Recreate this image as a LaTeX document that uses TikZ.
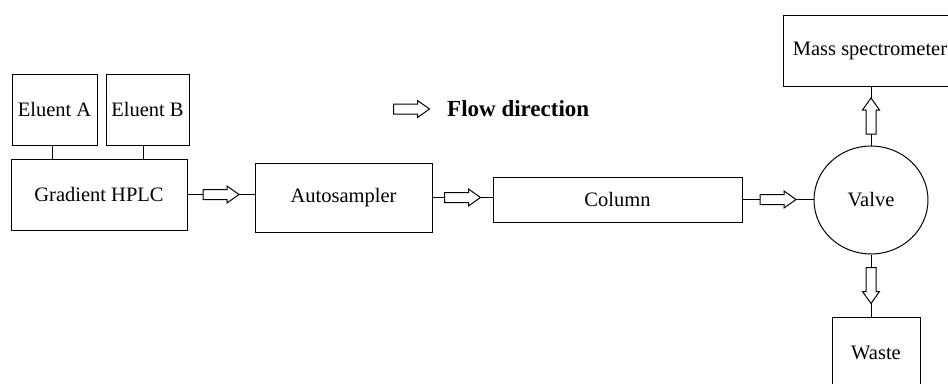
\documentclass[tikz,border=0pt]{standalone}
\usepackage{fontspec}
\setmainfont{Liberation Serif}
\usetikzlibrary{calc,shapes.geometric}
\begin{document}
\begin{tikzpicture}[x=1pt,y=-1pt,
  box/.style={draw,line width=1pt,rectangle,inner sep=0pt,font=\fontsize{20.5}{24}\selectfont},
  conn/.style={line width=1pt},
  blockarrow/.pic={\draw[line width=1pt,fill=white,line join=miter]
     (-18,-5) -- (6,-5) -- (6,-8.5) -- (18,0) -- (6,8.5) -- (6,5) -- (-18,5) -- cycle;}]
\useasboundingbox (0,0) rectangle (948,383);
\node[box,minimum width=85,minimum height=71] (EA) at (54.5,109.5) {Eluent A};
\node[box,minimum width=83,minimum height=71] (EB) at (147.5,109.5) {Eluent B};
\node[box,minimum width=176,minimum height=71] (HPLC) at (99,194.5) {Gradient HPLC};
\node[box,minimum width=177,minimum height=69] (AS) at (343.5,197.5) {Autosampler};
\node[box,minimum width=249,minimum height=45] (COL) at (617.5,199.5) {Column};
\node[box,ellipse,minimum width=114,minimum height=108] (V) at (871,200) {Valve};
\node[box,minimum width=174,minimum height=71] (MS) at (870,50.5) {Mass spectrometer};
\node[box,minimum width=88,minimum height=78,text height=14,text depth=4] (W) at (876,356) {};
\node[font=\fontsize{20.5}{24}\selectfont] (Wt) at (876,353) {Waste};
\draw[conn] ($(EA.south)+(-2.5,0)$) -- ($(EA.south |- HPLC.north)+(-2.5,0)$);
\draw[conn] ($(EB.south)+(-4.5,0)$) -- ($(EB.south |- HPLC.north)+(-4.5,0)$);
\draw[conn] (HPLC.east) -- (HPLC.east -| AS.west);
\draw[conn] (AS.east) -- (AS.east -| COL.west);
\draw[conn] (COL.east) -- (COL.east -| V.west);
\draw[conn] (V.north) -- (V.north |- MS.south);
\draw[conn] (V.south) -- (V.south |- W.north);
\path ($(HPLC.east)!0.5!(HPLC.east -| AS.west)$) pic{blockarrow};
\path ($(AS.east)!0.5!(AS.east -| COL.west)$) pic{blockarrow};
\path ($(COL.east)!0.5!(COL.east -| V.west)$) pic{blockarrow};
\path ($(V.north)!0.5!(V.north |- MS.south)$) pic[rotate=90]{blockarrow};
\path ($(V.south)!0.5!(V.south |- W.north)$) pic[rotate=-90]{blockarrow};
\path (411.5,109) pic{blockarrow} coordinate (legend);
\node[anchor=west,inner sep=0pt,font=\fontsize{23}{27}\selectfont\bfseries] (FD) at (447,109) {Flow direction};
\end{tikzpicture}
\end{document}
